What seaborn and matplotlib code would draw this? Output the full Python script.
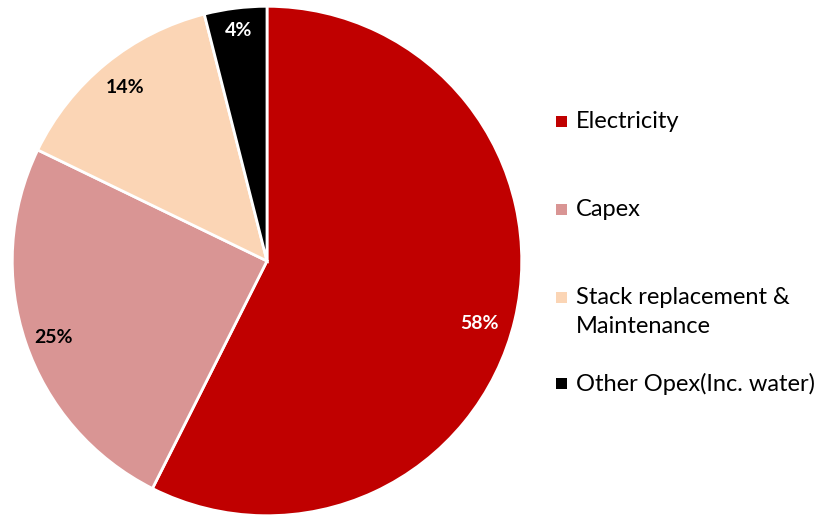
import matplotlib
matplotlib.use("Agg")
import numpy as np
import matplotlib.pyplot as plt
import seaborn as sns

sns.set_theme(style="white")
plt.rcParams["font.family"] = ["Lato", "DejaVu Sans"]

categories = ["Electricity", "Capex", "Stack replacement &\nMaintenance", "Other Opex(Inc. water)"]
shares = [58, 25, 14, 4]
colors = ["#C00000", "#D99594", "#FBD5B5", "#000000"]
label_colors = ["white", "black", "black", "white"]

W, H = 821, 517
fig = plt.figure(figsize=(W / 100, H / 100), dpi=100)
ax = fig.add_axes([11 / W, 0 / H, 512 / W, 512 / H])

wedges, texts = ax.pie(
    shares,
    colors=colors,
    startangle=90,
    counterclock=False,
    radius=1,
    wedgeprops=dict(edgecolor="white", linewidth=2),
)

# percentage labels placed inside each wedge (radius fraction, angle nudge in degrees)
label_radius = [0.87, 0.89, 0.88, 0.91]
label_nudge = [-3, 1, 0, 0]
for w, val, c, r, dn in zip(wedges, shares, label_colors, label_radius, label_nudge):
    ang = np.deg2rad((w.theta1 + w.theta2) / 2 + dn)
    ax.text(r * np.cos(ang), r * np.sin(ang), f"{val}%", color=c, fontsize=14,
            fontweight="bold", ha="center", va="center")

ax.set_xlim(-1.005, 1.005)
ax.set_ylim(-1.005, 1.005)
ax.set_aspect("equal")
ax.axis("off")

# legend entries: square swatch + label
legend_y = [122, 210, 298, 384]
for cat, col, y in zip(categories, colors, legend_y):
    fig.patches.append(
        plt.Rectangle((556 / W, 1 - (y + 5) / H), 11 / W, 11 / H,
                      transform=fig.transFigure, facecolor=col, edgecolor="none")
    )
    fig.text(576 / W, 1 - (y - 11) / H, cat, fontsize=17, va="top", ha="left",
             color="black", linespacing=1.45)

fig.savefig("out.png", dpi=100, facecolor="white")
